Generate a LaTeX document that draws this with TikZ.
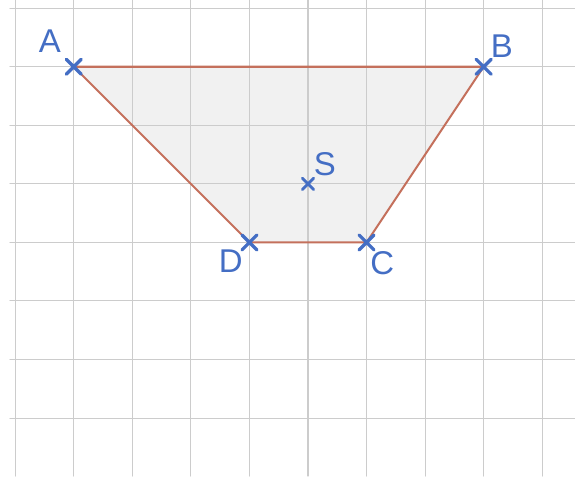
\documentclass[tikz,border=0pt]{standalone}
\usepackage{fontspec}
\setsansfont{Liberation Sans}
\usetikzlibrary{shapes.misc}
\begin{document}
\begin{tikzpicture}[line cap=round, line join=round]
  \definecolor{ptblue}{RGB}{68,110,196}
  \definecolor{edgered}{RGB}{196,112,92}
  \tikzset{
    pt/.style={cross out, draw=ptblue, line width=1.6pt, minimum size=0.2cm, inner sep=0pt},
    smallpt/.style={pt, minimum size=0.15cm, line width=1.3pt},
    lbl/.style={text=ptblue, font=\sffamily\fontsize{16}{19}\selectfont, inner sep=0pt}
  }
  \useasboundingbox (-0.26,0.14) rectangle (9.56,-7.99);
  % the trapezium
  \coordinate (A) at (1,-1);
  \coordinate (B) at (8,-1);
  \coordinate (C) at (6,-4);
  \coordinate (D) at (4,-4);
  \coordinate (S) at (5,-3);
  \fill[gray!11] (A) -- (B) -- (C) -- (D) -- cycle;
  % squared paper
  \foreach \y in {0,...,7}
    \draw[gray!40, line width=0.5pt] (-0.09,-\y) -- (9.56,-\y);
  \foreach \x in {0,...,9}
    \draw[gray!40, line width=0.5pt] (\x,0.14) -- (\x,-7.99);
  \draw[edgered, line width=1pt] (A) -- (B) -- (C) -- (D) -- cycle;
  % points and labels
  \node[pt] (pA) at (A) {};
  \node[pt] (pB) at (B) {};
  \node[pt] (pC) at (C) {};
  \node[pt] (pD) at (D) {};
  \node[smallpt] (pS) at (S) {};
  \node[lbl, xshift=-0.41cm, yshift=0.44cm] (labA) at (A) {A};
  \node[lbl, xshift=0.31cm, yshift=0.36cm] (labB) at (B) {B};
  \node[lbl, xshift=0.27cm, yshift=-0.36cm] (labC) at (C) {C};
  \node[lbl, xshift=-0.32cm, yshift=-0.32cm] (labD) at (D) {D};
  \node[lbl, xshift=0.29cm, yshift=0.34cm] (labS) at (S) {S};
\end{tikzpicture}
\end{document}
